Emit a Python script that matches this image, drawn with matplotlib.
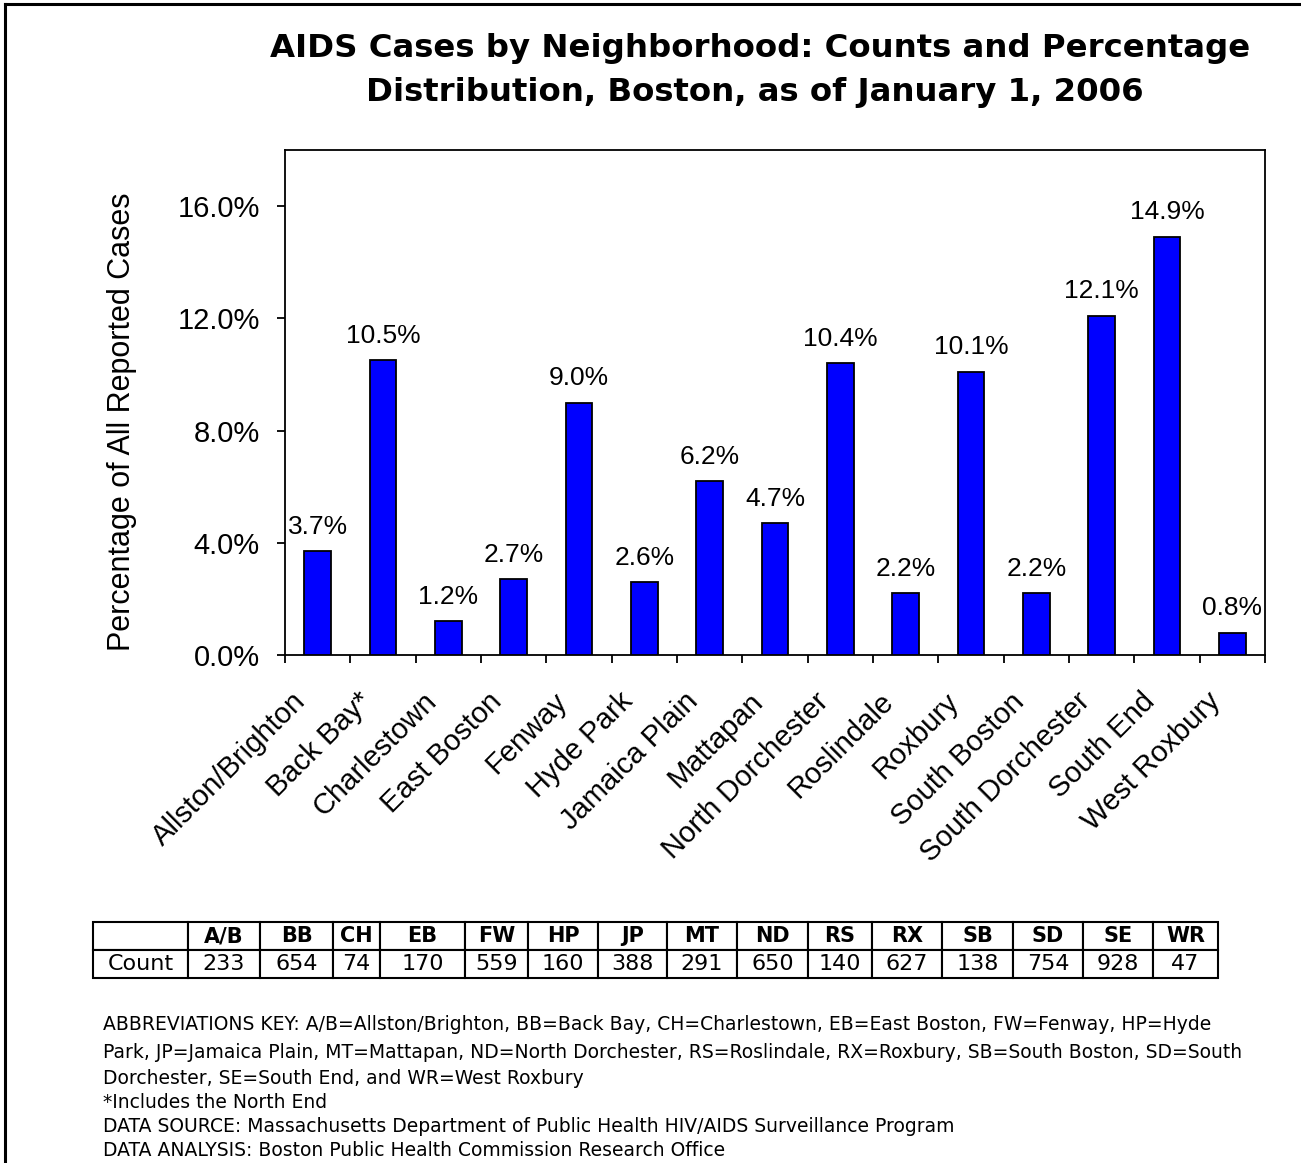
import matplotlib
matplotlib.use("Agg")
import matplotlib.pyplot as plt
from matplotlib.lines import Line2D
from matplotlib.transforms import ScaledTranslation

plt.rcParams['font.family'] = ['Liberation Sans', 'DejaVu Sans']

neighborhoods = ["Allston/Brighton", "Back Bay*", "Charlestown", "East Boston", "Fenway",
                 "Hyde Park", "Jamaica Plain", "Mattapan", "North Dorchester", "Roslindale",
                 "Roxbury", "South Boston", "South Dorchester", "South End", "West Roxbury"]
percentages = [3.7, 10.5, 1.2, 2.7, 9.0, 2.6, 6.2, 4.7, 10.4, 2.2, 10.1, 2.2, 12.1, 14.9, 0.8]
abbreviations = ["A/B", "BB", "CH", "EB", "FW", "HP", "JP", "MT", "ND", "RS", "RX", "SB", "SD", "SE", "WR"]
counts = [233, 654, 74, 170, 559, 160, 388, 291, 650, 140, 627, 138, 754, 928, 47]
y_ticks = [0, 4, 8, 12, 16]

W, H = 1301, 1163
fig = plt.figure(figsize=(W / 100, H / 100), dpi=100)

def fx(px):
    return px / W

def fy(py):
    return 1 - py / H

WIDE = ['DejaVu Sans']

# frame (left + top)
fig.add_artist(Line2D([fx(5), fx(5)], [fy(4), 0], transform=fig.transFigure, color='black', lw=2.2))
fig.add_artist(Line2D([fx(5), 1], [fy(4), fy(4)], transform=fig.transFigure, color='black', lw=2.2))

# Title
fig.text(fx(760), fy(48), "AIDS Cases by Neighborhood: Counts and Percentage",
         ha='center', va='center', fontsize=23.3, fontweight='bold', family=WIDE)
fig.text(fx(755), fy(93), "Distribution, Boston, as of January 1, 2006",
         ha='center', va='center', fontsize=23.3, fontweight='bold', family=WIDE)

ax = fig.add_axes([fx(285), fy(655), fx(1265) - fx(285), fy(150) - fy(655)])
x = list(range(len(neighborhoods)))
ax.bar(x, percentages, width=0.41, color='#0000FF', edgecolor='black', linewidth=1.3, zorder=3)
ax.set_xlim(-0.5, len(neighborhoods) - 0.5)
ax.set_ylim(0, 18)
ax.set_yticks(y_ticks)
ax.set_yticklabels([f"{v:.1f}%" for v in y_ticks], fontsize=21)
ax.tick_params(axis='y', direction='out', length=6, width=1.3, pad=12)

# x ticks at category boundaries, labels at centers
ax.set_xticks([i - 0.5 for i in range(len(neighborhoods) + 1)])
ax.set_xticklabels([])
ax.tick_params(axis='x', direction='out', length=6, width=1.3)
ax.set_xticks(x, minor=True)
ax.set_xticklabels(neighborhoods, minor=True, rotation=45, ha='right', va='top',
                   rotation_mode='anchor', fontsize=21)
ax.tick_params(axis='x', which='minor', length=0, pad=14)
shift = ScaledTranslation(-26 / 100, -13 / 100, fig.dpi_scale_trans)
for lbl in ax.get_xticklabels(minor=True):
    lbl.set_transform(lbl.get_transform() + shift)

for s in ax.spines.values():
    s.set_linewidth(1.3)

for xi, v in zip(x, percentages):
    ax.annotate(f"{v:.1f}%", (xi, v), xytext=(0, 9), textcoords='offset points',
                ha='center', va='bottom', fontsize=19)

ax.set_ylabel("Percentage of All Reported Cases", fontsize=22)
ax.yaxis.set_label_coords((120 + 17 - 285) / 980, (655 - 422) / 505)

# Table
col_edges = [93, 188, 260, 333, 380, 465, 528, 598, 667, 737, 808, 872, 942, 1013, 1083, 1153, 1218]
tax = fig.add_axes([fx(93), fy(978), fx(1218) - fx(93), fy(922) - fy(978)])
tax.axis('off')
total = col_edges[-1] - col_edges[0]
col_widths = [(col_edges[i + 1] - col_edges[i]) / total for i in range(len(col_edges) - 1)]
cell_text = [[""] + abbreviations, ["Count"] + [str(c) for c in counts]]
tbl = tax.table(cellText=cell_text, colWidths=col_widths, bbox=[0, 0, 1, 1], cellLoc='center')
tbl.auto_set_font_size(False)
for (r, c), cell in tbl.get_celld().items():
    cell.set_edgecolor('black')
    cell.set_linewidth(1.5)
    t = cell.get_text()
    t.set_family(WIDE)
    if r == 0:
        t.set_fontweight('bold')
        t.set_fontsize(15)
    else:
        t.set_fontsize(16)

# footnotes
notes = [
    "ABBREVIATIONS KEY: A/B=Allston/Brighton, BB=Back Bay, CH=Charlestown, EB=East Boston, FW=Fenway, HP=Hyde",
    "Park, JP=Jamaica Plain, MT=Mattapan, ND=North Dorchester, RS=Roslindale, RX=Roxbury, SB=South Boston, SD=South",
    "Dorchester, SE=South End, and WR=West Roxbury",
    "*Includes the North End",
    "DATA SOURCE: Massachusetts Department of Public Health HIV/AIDS Surveillance Program",
    "DATA ANALYSIS: Boston Public Health Commission Research Office",
]
note_y = [1025, 1052, 1078, 1102, 1127, 1150]
for t, yy in zip(notes, note_y):
    fig.text(fx(103), fy(yy), t, ha='left', va='center', fontsize=13.5, family=WIDE)

fig.savefig("out.png", dpi=100)
